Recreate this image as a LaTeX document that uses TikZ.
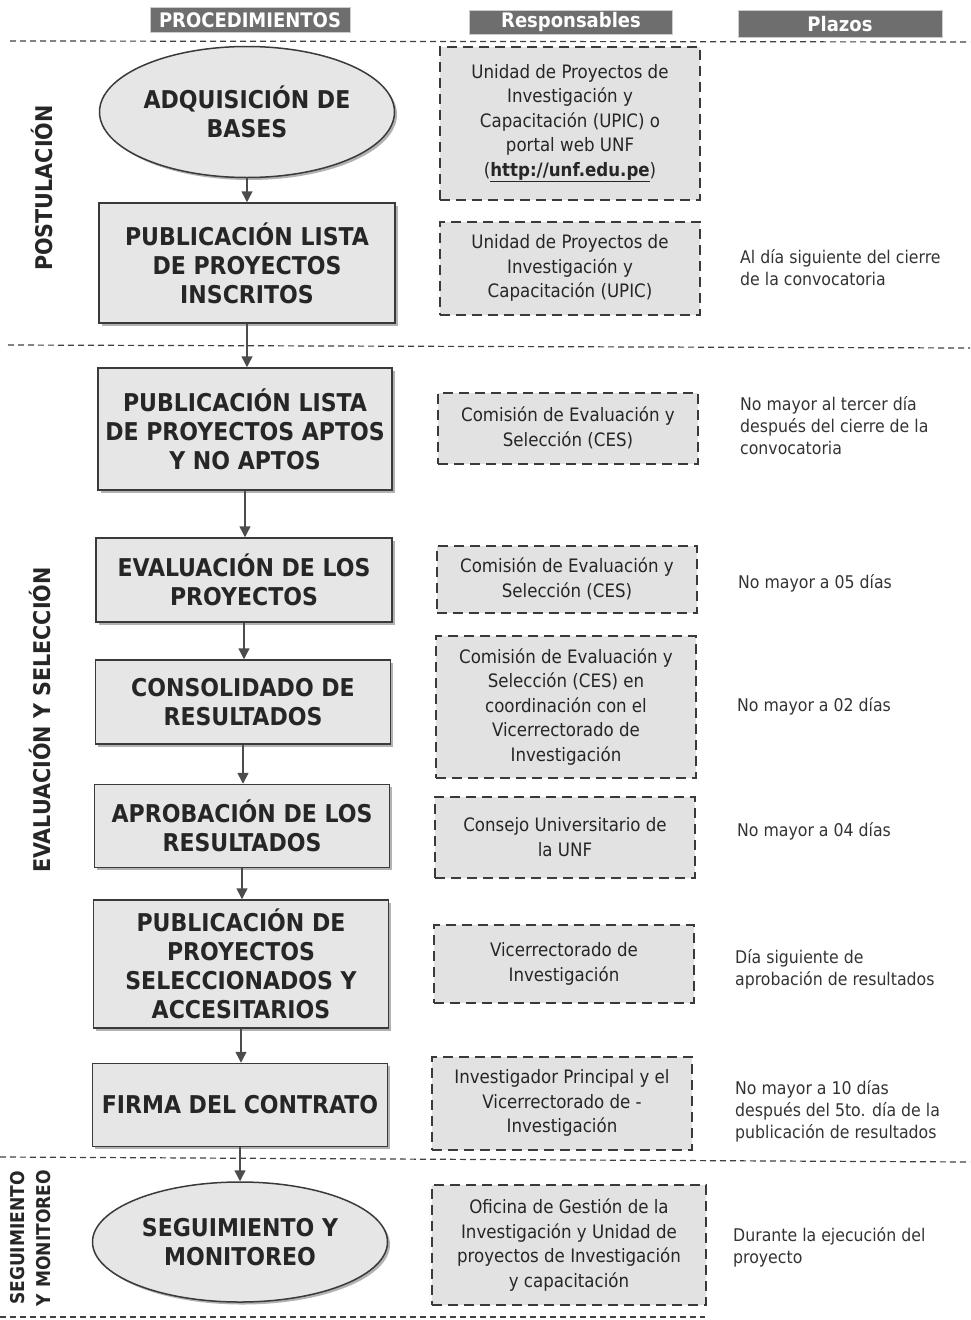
\documentclass[tikz,border=0pt]{standalone}
\usepackage{fontspec}
\setmainfont{DejaVu Sans Condensed}
\usetikzlibrary{shapes.geometric, arrows.meta, shadows}
\definecolor{ProcFill}{HTML}{E6E6E6}
\definecolor{RespFill}{HTML}{E2E2E2}
\definecolor{HeadFill}{HTML}{6E6E6E}
\definecolor{LineGray}{HTML}{3A3A3A}

\tikzset{
  proc/.style={draw=LineGray, line width=1.5pt, fill=ProcFill, align=center,
    minimum width=296pt, inner sep=0pt,
    font=\bfseries\fontsize{24.5}{29}\selectfont, text=black!85,
    drop shadow={shadow xshift=2.5pt, shadow yshift=-2.5pt, fill=gray!80!black}},
  procoval/.style={proc, ellipse},
  resp/.style={draw=LineGray, line width=2pt, dash pattern=on 10pt off 6pt,
    fill=RespFill, align=center, minimum width=260pt, inner sep=0pt,
    font=\fontsize{18.5}{24.5}\selectfont, text=black!85},
  plazo/.style={anchor=west, align=left, inner sep=0pt,
    font=\fontsize{17.5}{22}\selectfont, text=black!80},
  head/.style={fill=HeadFill, draw=gray!40, line width=1pt, text=white,
    font=\bfseries\fontsize{20}{22}\selectfont, inner sep=0pt},
  fase/.style={rotate=90, align=center, inner sep=0pt,
    font=\bfseries\fontsize{23}{26}\selectfont, text=black!85},
  sep/.style={draw=gray!50!black, line width=1.2pt, dash pattern=on 6pt off 4pt},
  arr/.style={draw=gray!60!black, line width=1.5pt,
    -{Triangle[width=11pt, length=11pt]}}
}

\begin{document}
\begin{tikzpicture}[x=1pt, y=-1pt]
  \useasboundingbox (0,0) rectangle (970,1320);

  % headers
  \node (HeadProc) [head, minimum width=200pt, minimum height=25pt] at (250,20) {PROCEDIMIENTOS};
  \node (HeadResp) [head, minimum width=203pt, minimum height=24pt] at (571,22) {Responsables};
  \node (HeadPlazo) [head, minimum width=204pt, minimum height=27pt] at (840,24) {Plazos};

  % separators
  \draw [sep] (10,41) -- (970,42);
  \draw [sep] (8,345) -- (970,348);
  \draw [sep] (0,1157) -- (970,1162);
  \draw [sep] (0,1317) -- (705,1317);

  % phases
  \node (Postulacion) [fase] at (42,188) {POSTULACIÓN};
  \node (EvalSel) [fase] at (40,720) {EVALUACIÓN Y SELECCIÓN};
  \node (SegMon) [fase, font=\bfseries\fontsize{19}{26}\selectfont] at (31,1238) {SEGUIMIENTO\\Y MONITOREO};

  % procedimientos
  \node (Adquisicion) [procoval, minimum width=295pt, minimum height=131pt] at (247,112) {ADQUISICIÓN DE\\BASES};
  \node (Inscritos) [proc, minimum height=120pt] at (247,263) {PUBLICACIÓN LISTA\\DE PROYECTOS\\INSCRITOS};
  \node (Aptos) [proc, minimum width=294pt, minimum height=122pt] at (245,429) {PUBLICACIÓN LISTA\\DE PROYECTOS APTOS\\Y NO APTOS};
  \node (Evaluacion) [proc, minimum height=84pt] at (244,580) {EVALUACIÓN DE LOS\\PROYECTOS};
  \node (Consolidado) [proc, minimum width=295pt, minimum height=84pt] at (243,702) {CONSOLIDADO DE\\RESULTADOS};
  \node (Aprobacion) [proc, minimum width=295pt, minimum height=83pt] at (242,826) {APROBACIÓN DE LOS\\RESULTADOS};
  \node (Seleccionados) [proc, minimum width=295pt, minimum height=128pt] at (241,964) {PUBLICACIÓN DE\\PROYECTOS\\SELECCIONADOS Y\\ACCESITARIOS};
  \node (Firma) [proc, minimum width=295pt, minimum height=83pt] at (240,1105) {FIRMA DEL CONTRATO};
  \node (Seguimiento) [procoval, minimum width=295pt, minimum height=120pt] at (240,1242) {SEGUIMIENTO Y\\MONITOREO};

  \draw [arr] (Adquisicion.south) -- (Adquisicion.south |- Inscritos.north);
  \draw [arr] (Inscritos.south) -- (Inscritos.south |- Aptos.north);
  \draw [arr] (Aptos.south) -- (Aptos.south |- Evaluacion.north);
  \draw [arr] (Evaluacion.south) -- (Evaluacion.south |- Consolidado.north);
  \draw [arr] (Consolidado.south) -- (Consolidado.south |- Aprobacion.north);
  \draw [arr] (Aprobacion.south) -- (Aprobacion.south |- Seleccionados.north);
  \draw [arr] (Seleccionados.south) -- (Seleccionados.south |- Firma.north);
  \draw [arr] (Firma.south) -- (Firma.south |- Seguimiento.north);

  % responsables
  \node (RespAdquisicion) [resp, minimum height=153pt] at (570,123) {Unidad de Proyectos de\\Investigación y\\Capacitación (UPIC) o\\portal web UNF\\(\underline{\textbf{http://unf.edu.pe}})};
  \node (RespInscritos) [resp, minimum height=93pt] at (570,268) {Unidad de Proyectos de\\Investigación y\\Capacitación (UPIC)};
  \node (RespAptos) [resp, minimum height=71pt] at (568,428) {Comisión de Evaluación y\\Selección (CES)};
  \node (RespEvaluacion) [resp, minimum height=67pt] at (567,579) {Comisión de Evaluación y\\Selección (CES)};
  \node (RespConsolidado) [resp, minimum height=142pt] at (566,707) {Comisión de Evaluación y\\Selección (CES) en\\coordinación con el\\Vicerrectorado de\\Investigación};
  \node (RespAprobacion) [resp, minimum height=81pt] at (565,837) {Consejo Universitario de\\la UNF};
  \node (RespSeleccionados) [resp, minimum height=78pt] at (564,964) {Vicerrectorado de\\Investigación};
  \node (RespFirma) [resp, minimum height=93pt] at (562,1103) {Investigador Principal y el\\Vicerrectorado de -\\Investigación};
  \node (RespSeguimiento) [resp, minimum width=274pt, minimum height=120pt] at (569,1245) {Oficina de Gestión de la\\Investigación y Unidad de\\proyectos de Investigación\\y capacitación};

  % plazos
  \node (PlazoInscritos) [plazo] at (740,268) {Al día siguiente del cierre\\de la convocatoria};
  \node (PlazoAptos) [plazo] at (740,426) {No mayor al tercer día\\después del cierre de la\\convocatoria};
  \node (PlazoEvaluacion) [plazo] at (738,583) {No mayor a 05 días};
  \node (PlazoConsolidado) [plazo] at (737,706) {No mayor a 02 días};
  \node (PlazoAprobacion) [plazo] at (737,831) {No mayor a 04 días};
  \node (PlazoSeleccionados) [plazo] at (735,969) {Día siguiente de\\aprobación de resultados};
  \node (PlazoFirma) [plazo] at (735,1111) {No mayor a 10 días\\después del 5to. día de la\\publicación de resultados};
  \node (PlazoSeguimiento) [plazo] at (733,1247) {Durante la ejecución del\\proyecto};
\end{tikzpicture}
\end{document}
